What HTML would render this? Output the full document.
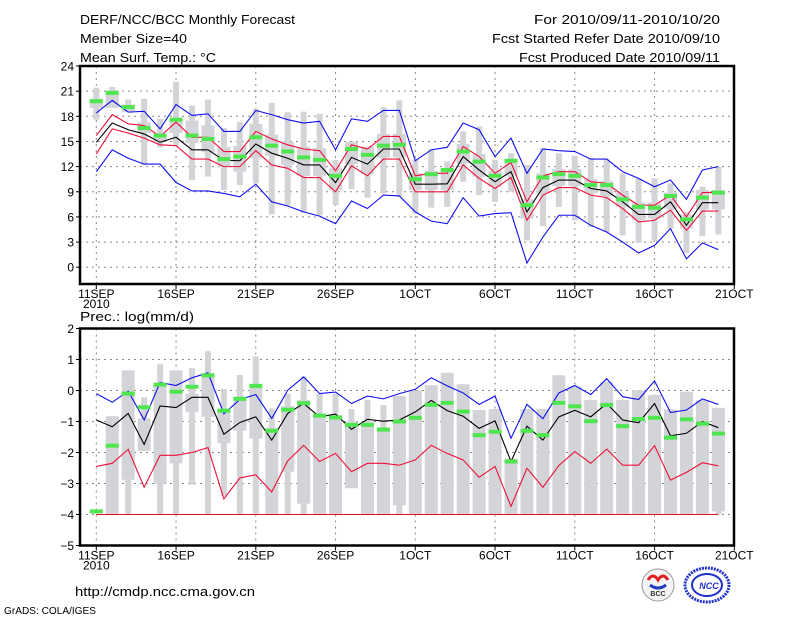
<!DOCTYPE html>
<html><head><meta charset="utf-8"><style>
html,body{margin:0;padding:0;background:#fff;}
svg{display:block;font-family:"Liberation Sans",sans-serif;}
</style></head><body>
<svg id="c" width="800" height="618" viewBox="0 0 800 618" xmlns="http://www.w3.org/2000/svg">
<rect width="800" height="618" fill="#fff"/>
<g font-size="13" fill="#000">
<text x="80" y="24" textLength="215" lengthAdjust="spacingAndGlyphs">DERF/NCC/BCC Monthly Forecast</text>
<text x="80" y="43" textLength="107" lengthAdjust="spacingAndGlyphs">Member Size=40</text>
<text x="80" y="62" textLength="136" lengthAdjust="spacingAndGlyphs">Mean Surf. Temp.: °C</text>
<text x="720" y="24" text-anchor="end" textLength="186" lengthAdjust="spacingAndGlyphs">For 2010/09/11-2010/10/20</text>
<text x="720" y="43" text-anchor="end" textLength="228" lengthAdjust="spacingAndGlyphs">Fcst Started Refer Date 2010/09/10</text>
<text x="720" y="62" text-anchor="end" textLength="201" lengthAdjust="spacingAndGlyphs">Fcst Produced Date 2010/09/11</text>
<text x="80" y="321" textLength="114" lengthAdjust="spacingAndGlyphs">Prec.: log(mm/d)</text>
<text x="75" y="596" textLength="180" lengthAdjust="spacingAndGlyphs">http://cmdp.ncc.cma.gov.cn</text>
<text x="4" y="614" font-size="10" textLength="92" lengthAdjust="spacingAndGlyphs">GrADS: COLA/IGES</text>
</g>
<g>
<circle cx="658" cy="585" r="16" fill="#f4f4f4" stroke="#999" stroke-width="1"/>
<path d="M648 580 q5 -8 10 0 q5 -8 10 0" fill="none" stroke="#e02020" stroke-width="3"/>
<path d="M650 585 q8 6 16 0" fill="none" stroke="#2040c0" stroke-width="3"/>
<text x="658" y="596" font-size="7" font-weight="bold" text-anchor="middle" fill="#333">BCC</text>
</g>
<g>
<ellipse cx="707" cy="585" rx="22" ry="17" fill="none" stroke="#2030d0" stroke-width="3" stroke-dasharray="2 1"/>
<ellipse cx="707" cy="585" rx="15" ry="11" fill="none" stroke="#2030d0" stroke-width="2"/>
<text x="709" y="589" font-size="9" font-weight="bold" font-style="italic" text-anchor="middle" fill="#2030d0">NCC</text>
</g>
<g id="top"></g>
<g id="bot"></g>
</svg>
<script>
// ---- Temperature panel data (day 0 = 11SEP) ----
const days = Array.from({length:40},(_,i)=>i);
const xTickLabels = ["11SEP","16SEP","21SEP","26SEP","1OCT","6OCT","11OCT","16OCT","21OCT"];
const tTicks = [0,3,6,9,12,15,18,21,24];
const pTicks = [-5,-4,-3,-2,-1,0,1,2];
const tMean = [14.9,17.2,16.4,15.9,14.9,15.5,14.0,14.0,12.75,12.7,14.7,13.6,13.0,12.2,12.2,10.1,13.1,12.3,14.1,14.1,9.9,9.9,9.95,13.2,11.6,10.2,11.4,6.6,9.5,10.4,10.4,9.4,9.1,7.8,6.3,6.3,7.8,5.0,7.7,7.7];
const tRedHi = [15.7,18.2,17.1,16.9,15.6,17.3,15.5,15.5,13.8,13.8,16.2,15.3,14.6,14.1,13.9,11.5,14.6,14.1,15.6,15.6,10.9,11.2,11.2,14.4,13.2,11.2,12.5,7.8,10.9,11.4,11.4,10.2,10.0,8.6,7.4,7.4,8.6,6.0,8.9,8.9];
const tRedLo = [13.5,16.5,16.0,15.4,14.6,14.5,12.9,12.9,12.0,12.0,13.9,12.2,11.8,10.7,10.7,9.0,12.1,10.9,12.9,12.9,9.0,9.0,9.0,12.2,10.6,9.4,10.7,5.6,8.6,9.5,9.5,8.6,8.3,7.0,5.4,5.6,6.8,4.4,6.7,6.7];
const tBlueHi = [18.4,19.9,18.5,18.6,16.5,19.4,18.1,18.3,16.2,16.2,18.7,18.2,17.6,17.2,17.4,14.0,17.7,17.4,18.7,18.7,12.7,14.0,14.3,17.2,16.4,13.2,15.4,11.2,14.1,13.9,13.8,12.9,12.9,11.4,10.6,9.6,10.4,8.1,11.6,12.0];
const tBlueLo = [11.4,14.0,13.0,12.3,12.3,10.1,9.1,9.1,8.8,8.4,9.9,7.8,7.3,6.6,6.1,5.2,7.9,7.0,8.6,8.5,6.6,5.5,5.2,8.3,6.1,6.4,6.5,0.5,3.6,6.2,6.2,5.0,4.2,3.0,1.7,2.6,4.6,1.0,2.9,2.1];
const tObs = [19.8,20.8,19.1,16.6,15.7,17.6,15.7,15.3,12.9,13.2,15.5,14.5,13.8,13.1,12.8,10.9,14.1,13.4,14.5,14.6,10.5,11.1,11.6,13.8,12.6,10.9,12.7,7.4,10.7,11.1,10.9,9.8,9.8,8.1,7.2,7.1,8.5,5.7,8.3,8.9];
const tMax = [21.4,21.5,20.0,20.1,17.7,22.1,19.3,20.0,16.6,17.3,18.9,19.6,18.5,18.55,18.3,12.8,15.0,14.4,19.1,19.9,12.8,14.1,12.6,16.2,16.8,12.8,13.6,12.2,14.2,13.6,13.3,13.0,12.9,11.2,10.6,10.6,10.0,6.6,9.6,12.0];
const tQ3 = [20.1,21.0,19.4,17.3,15.8,17.5,17.5,16.9,14.3,14.5,17.1,15.8,14.9,14.4,14.2,11.8,14.9,14.4,15.9,15.9,11.2,11.5,11.5,14.7,13.5,11.5,12.8,8.1,11.2,11.7,11.7,10.5,10.3,8.9,7.7,7.7,8.9,6.3,9.2,9.2];
const tQ1 = [19.0,19.0,18.5,16.0,15.0,16.0,14.8,13.7,12.0,11.4,13.0,13.3,12.2,10.9,10.9,9.2,12.3,11.1,13.1,13.1,9.2,9.2,9.2,12.4,10.8,9.6,10.9,5.8,8.8,9.7,9.7,8.8,8.5,7.2,5.6,5.8,7.0,4.6,6.9,6.9];
const tMin = [17.6,19.0,18.5,12.2,14.3,14.5,10.4,10.8,9.2,9.8,10.0,6.3,7.4,6.5,6.2,7.4,9.3,8.3,8.8,8.4,6.4,7.1,7.2,10.2,8.6,7.8,9.0,3.2,4.9,7.2,5.6,4.8,4.2,3.8,2.9,3.1,4.6,1.7,3.7,3.9];
// ---- Precipitation panel data ----
const pMean = [-0.95,-1.17,-0.74,-1.74,-0.5,-0.55,-0.22,-0.22,-1.41,-1.03,-0.85,-1.6,-0.74,-0.42,-0.85,-0.76,-1.25,-0.93,-0.99,-0.95,-0.69,-0.32,-0.65,-0.83,-1.22,-0.98,-2.29,-1.15,-1.6,-0.85,-0.64,-0.85,-0.42,-0.95,-1.04,-0.42,-1.46,-1.38,-1.0,-1.2];
const pBlue = [-0.1,-0.38,-0.02,-0.95,0.26,0.16,0.41,0.57,-0.75,-0.29,-0.13,-0.9,0.01,0.44,-0.1,-0.05,-0.42,-0.18,-0.27,-0.1,0.04,0.41,0.15,-0.08,-0.45,-0.18,-1.54,-0.45,-0.91,-0.08,0.16,-0.13,0.38,-0.2,-0.29,0.31,-0.71,-0.63,-0.27,-0.45];
const pRed = [-2.45,-2.35,-1.9,-3.12,-2.09,-2.09,-2.0,-1.84,-3.5,-2.82,-2.72,-3.27,-2.27,-1.77,-2.29,-2.03,-2.62,-2.35,-2.35,-2.41,-2.24,-1.77,-2.03,-2.24,-2.8,-2.45,-3.74,-2.51,-3.12,-2.42,-1.97,-2.35,-1.89,-2.41,-2.41,-1.78,-2.89,-2.64,-2.33,-2.43];
const pObs = [-3.9,-1.78,-0.1,-0.54,0.19,-0.04,0.12,0.49,-0.65,-0.27,0.15,-1.3,-0.62,-0.41,-0.81,-0.87,-1.11,-1.11,-1.26,-1.0,-0.88,-0.46,-0.4,-0.68,-1.44,-1.33,-2.29,-1.3,-1.44,-0.4,-0.51,-0.99,-0.47,-1.15,-0.92,-0.88,-1.52,-0.93,-1.07,-1.39];
const pMax = [-4,-0.83,0.65,-0.22,0.85,0.65,0.72,1.27,0.05,0.5,1.1,-0.58,-0.1,0.45,-0.1,-0.1,-0.6,-0.3,-0.47,-0.18,0.0,0.17,0.57,0.2,-0.63,-0.6,-2.2,-0.6,-0.6,0.49,0.12,-0.31,0.28,-0.31,0.01,-0.15,-0.61,-0.04,-0.31,-0.56];
const pQ3 = [-4,-0.83,0.65,-0.9,0.2,0.65,-0.1,0.5,-0.6,-0.2,0.1,-1.2,-0.5,-0.3,-0.8,-0.8,-1.0,-1.0,-1.2,-0.18,0.0,0.17,0.57,0.2,-0.63,-0.6,-2.2,-0.6,-0.6,0.49,0.12,-0.31,0.28,-0.31,0.01,-0.15,-0.61,-0.04,-0.31,-0.56];
const pQ1 = [-4,-4,-2.88,-1.95,-3.0,-2.35,-0.7,-0.85,-1.7,-1.3,-1.55,-4,-2.62,-3.65,-4,-4,-3.15,-4,-4,-3.7,-4,-4,-4,-4,-4,-4,-4,-4,-4,-4,-4,-4,-4,-4,-4,-4,-4,-4,-4,-3.9];
const pMin = [-4,-4,-4,-1.95,-4,-4,-3.04,-4,-3.4,-4,-4,-4,-4,-4,-4,-4,-3.15,-4,-4,-4,-4,-4,-4,-4,-4,-4,-4,-4,-4,-4,-4,-4,-4,-4,-4,-4,-4,-4,-4,-4];

const NS="http://www.w3.org/2000/svg";
function mk(parent,tag,attrs){const e=document.createElementNS(NS,tag);for(const k in attrs)e.setAttribute(k,attrs[k]);parent.appendChild(e);return e;}
const L=80,R=734;
const xS=d=>96.3+d*15.95;

function panel(g,top,bottom,vmin,vmax,ticks,series,name){
  const yS=v=>bottom-(v-vmin)/(vmax-vmin)*(bottom-top);
  ticks.forEach(t=>{ if(t>vmin&&t<vmax){const l=mk(g,'line',{x1:L,x2:R,y1:yS(t),y2:yS(t),stroke:'#888','stroke-dasharray':'2 4','stroke-width':1});
    
    }});
  for(let i=0;i<8;i++){const x=xS(i*5);const l=mk(g,'line',{x1:x,x2:x,y1:top,y2:bottom,stroke:'#888','stroke-dasharray':'2 4'});
    
    }
  days.forEach(d=>{
    const x=xS(d);
    if(series.max[d]>series.min[d]+0.01){const r=mk(g,'rect',{x:x-3,y:yS(series.max[d]),width:6,height:yS(series.min[d])-yS(series.max[d]),fill:'#d3d4d8'});
      
      }
    if(series.q3[d]>series.q1[d]+0.01){const r=mk(g,'rect',{x:x-6.5,y:yS(series.q3[d]),width:13,height:yS(series.q1[d])-yS(series.q3[d]),fill:'#d3d4d8'});
      
      }
  });
  if(series.base!==undefined){const l=mk(g,'line',{x1:xS(0),x2:xS(39),y1:yS(series.base),y2:yS(series.base),stroke:'#e8102a','stroke-width':1});
    
    }
  series.lines.forEach(s=>{
    const p=mk(g,'polyline',{points:days.map(d=>xS(d)+','+yS(s.v[d])).join(' '),fill:'none',stroke:s.c,'stroke-width':1.1});
    
    
  });
  days.forEach(d=>{
    const r=mk(g,'rect',{x:xS(d)-6.5,y:yS(series.obs[d])-2,width:13,height:4,fill:'#4ee64e'});
    
    
  });
  const f=mk(g,'rect',{x:L,y:top,width:R-L,height:bottom-top,fill:'none',stroke:'#000','stroke-width':2.5});
  
  
  ticks.forEach(t=>{
    const tk=mk(g,'line',{x1:L-4,x2:L,y1:yS(t),y2:yS(t),stroke:'#000'});
    
    
    const tx=mk(g,'text',{x:L-6,y:yS(t)+4.5,'text-anchor':'end','font-size':12});
    tx.textContent=(t<0?'\u2212'+(-t):String(t));
    
    
  });
  xTickLabels.forEach((lab,i)=>{
    const x=xS(i*5);
    const tk=mk(g,'line',{x1:x,x2:x,y1:bottom,y2:bottom+5,stroke:'#000'});
    
    
    const tx=mk(g,'text',{x:x,y:bottom+14,'text-anchor':'middle','font-size':12});
    tx.textContent=lab;
    
    
  });
  const yr=mk(g,'text',{x:xS(0),y:bottom+24,'text-anchor':'middle','font-size':12});
  yr.textContent='2010';
  
  
}
panel(document.getElementById('top'),66,284,-2,24,tTicks,{
  max:tMax,q3:tQ3,q1:tQ1,min:tMin,obs:tObs,
  lines:[{v:tBlueLo,c:'#1010f0',n:'temp-blue-lower-line'},{v:tBlueHi,c:'#1010f0',n:'temp-blue-upper-line'},{v:tRedLo,c:'#f0103a',n:'temp-red-lower-line'},{v:tRedHi,c:'#f0103a',n:'temp-red-upper-line'},{v:tMean,c:'#000',n:'temp-mean-line'}]
},'temp');
panel(document.getElementById('bot'),328.5,545.5,-5,2,pTicks,{
  max:pMax,q3:pQ3,q1:pQ1,min:pMin,obs:pObs,base:-4,
  lines:[{v:pBlue,c:'#1010f0',n:'prec-blue-line'},{v:pRed,c:'#f0103a',n:'prec-red-line'},{v:pMean,c:'#000',n:'prec-mean-line'}]
},'prec');
</script>
</body></html>
